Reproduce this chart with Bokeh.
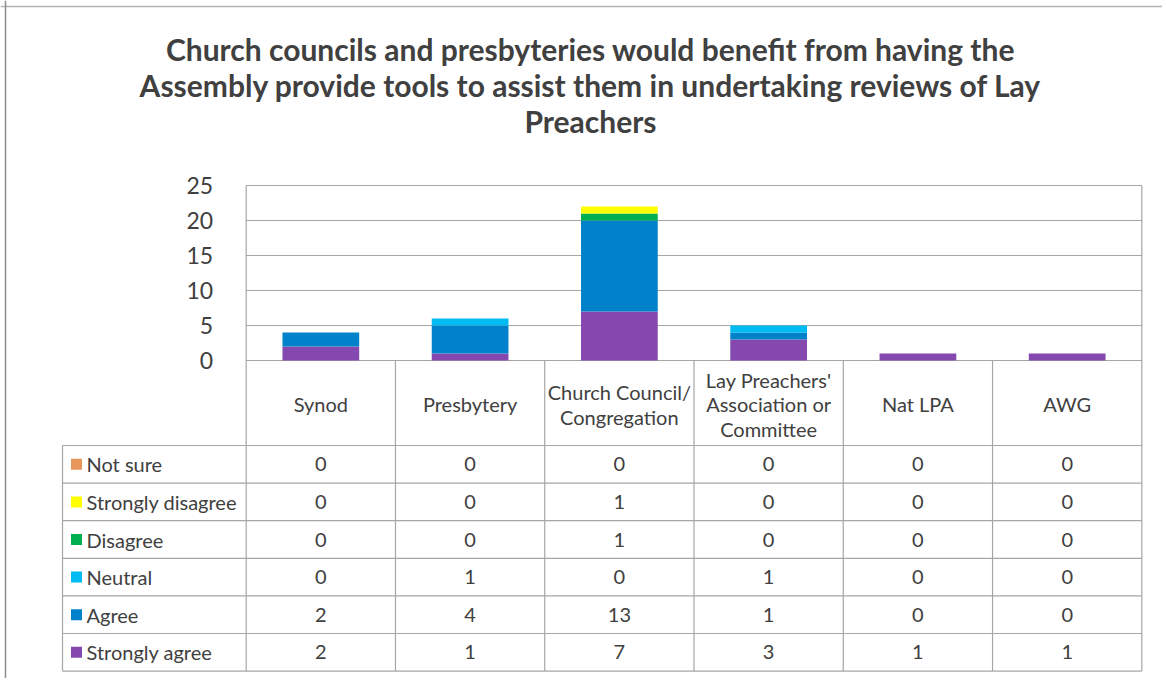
from bokeh.plotting import figure
from bokeh.models import Range1d, FixedTicker, Label, ColumnDataSource, Span
from bokeh.core.properties import value
from bokeh.embed import file_html
from bokeh.resources import INLINE

# ---------------- data ----------------
categories = ["Synod", "Presbytery", "Church Council/\nCongregation",
              "Lay Preachers'\nAssociation or\nCommittee", "Nat LPA", "AWG"]
series_names = ["Strongly agree", "Agree", "Neutral", "Disagree",
                "Strongly disagree", "Not sure"]
strongly_agree = [2, 1, 7, 3, 1, 1]
agree = [2, 4, 13, 1, 0, 0]
neutral = [0, 1, 0, 1, 0, 0]
disagree = [0, 0, 1, 0, 0, 0]
strongly_disagree = [0, 0, 1, 0, 0, 0]
not_sure = [0, 0, 0, 0, 0, 0]
y_ticks = [0, 5, 10, 15, 20, 25]
title_text = ("Church councils and presbyteries would benefit from having the\n"
              "Assembly provide tools to assist them in undertaking reviews of Lay\n"
              "Preachers")

colors = ["#8548AE", "#0082CA", "#00BCF2", "#00B050", "#FFFF00", "#E8975A"]
values_by_series = [strongly_agree, agree, neutral, disagree, strongly_disagree, not_sure]

FONT = "Lato"
TXT = "#404040"
LINE = "#a6a6a6"

# ---------------- layout constants ----------------
OFF = 0            # page offset of the figure
W, H = 1162, 678
PX_PER_CAT = 149.27
PX_PER_UNIT = 7.0
X0_PAGE = 245.7   # page x of category boundary 0
Y0_PAGE = 360.0   # page y of value 0


def px_x(px):
    return (px - X0_PAGE) / PX_PER_CAT


def px_y(py):
    return (Y0_PAGE - py) / PX_PER_UNIT


x_start, x_end = px_x(OFF), px_x(OFF + W)
y_end, y_start = px_y(OFF), px_y(OFF + H)

header_bottom = px_y(445)
row_h = 37.6 / PX_PER_UNIT
left_col = px_x(62)

n = len(categories)
xc = [i + 0.5 for i in range(n)]

p = figure(width=W, height=H, output_backend="svg", toolbar_location=None,
           x_range=Range1d(x_start, x_end), y_range=Range1d(y_start, y_end),
           min_border=0, outline_line_color=None)
p.grid.visible = False
p.xaxis.visible = False

# y axis inside the frame at the plot's left edge
ya = p.yaxis[0]
ya.fixed_location = 0
ya.ticker = FixedTicker(ticks=y_ticks)
ya.bounds = (y_ticks[0], y_ticks[-1])
ya.axis_line_color = None
ya.major_tick_line_color = None
ya.minor_tick_line_color = None
ya.major_label_standoff = 27
ya.major_label_text_font = FONT
ya.major_label_text_font_size = "23px"
ya.major_label_text_color = TXT

# outer chart border (top & left)
p.add_layout(Span(location=px_y(6), dimension="width", line_color="#b4b4b4", line_width=1.5))
p.add_layout(Span(location=px_x(5), dimension="height", line_color="#8c8c8c", line_width=1.5))

# gridlines
p.segment(x0=[0] * len(y_ticks), x1=[n] * len(y_ticks), y0=y_ticks, y1=y_ticks,
          line_color=LINE, line_width=1.2)

# stacked bars
src = ColumnDataSource(dict(x=xc, **{s: v for s, v in zip(series_names, values_by_series)}))
p.vbar_stack(series_names, x="x", width=0.514, color=colors, source=src,
             line_color=None)

# table lines
n_rows = len(series_names)
table_bottom = header_bottom - n_rows * row_h
row_edges = [header_bottom - k * row_h for k in range(n_rows + 1)]
p.segment(x0=[left_col] * len(row_edges), x1=[n] * len(row_edges),
          y0=row_edges, y1=row_edges, line_color=LINE, line_width=1.2)
vx = list(range(n + 1))
vtop = [y_ticks[-1]] + [0] * (n - 1) + [y_ticks[-1]]
p.segment(x0=vx, x1=vx, y0=vtop, y1=[table_bottom] * len(vx),
          line_color=LINE, line_width=1.2)
p.segment(x0=[left_col], x1=[left_col], y0=[header_bottom], y1=[table_bottom],
          line_color=LINE, line_width=1.2)

# header labels
p.text(x=xc, y=[header_bottom / 2 - 0.2] * n, text=categories, text_align="center",
       text_baseline="middle", text_font=value(FONT), text_font_size="20px",
       text_color=TXT, text_line_height=1.02)

# table rows: top row = last series
row_order = list(reversed(range(n_rows)))
row_centers = [header_bottom - (k + 0.5) * row_h for k in range(n_rows)]
key_x = px_x(76)
lab_x = px_x(86)
p.scatter(x=[key_x] * n_rows, y=row_centers, marker="square", size=11,
          color=[colors[j] for j in row_order], line_color=None)
p.text(x=[lab_x] * n_rows, y=row_centers, text=[series_names[j] for j in row_order],
       text_align="left", text_baseline="middle", text_font=value(FONT),
       text_font_size="20px", text_color=TXT)

cx, cy, ct = [], [], []
for k, j in enumerate(row_order):
    for i in range(n):
        cx.append(xc[i]); cy.append(row_centers[k]); ct.append(str(values_by_series[j][i]))
p.text(x=cx, y=cy, text=ct, text_align="center", text_baseline="middle",
       text_font=value(FONT), text_font_size="20px", text_color=TXT)

# title
p.add_layout(Label(x=px_x(590), y=px_y(84),
                   text=title_text, text_align="center", text_baseline="middle",
                   text_font=FONT, text_font_size="30px", text_font_style="bold",
                   text_color="#404040", text_line_height=1.0))

open("out.html", "w").write(file_html(p, INLINE))
